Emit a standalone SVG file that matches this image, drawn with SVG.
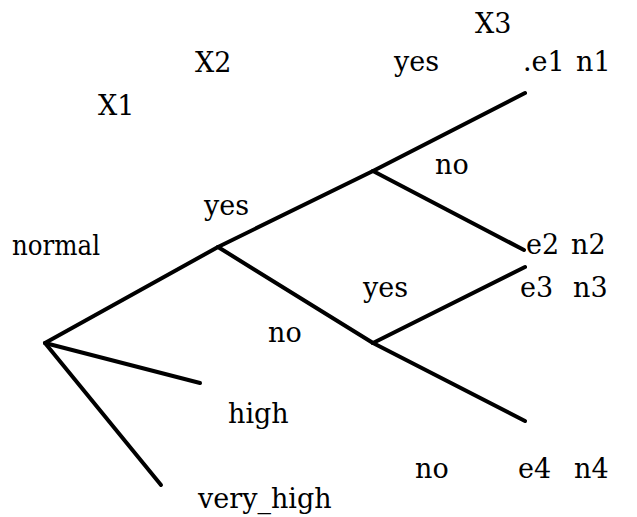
<svg xmlns="http://www.w3.org/2000/svg" width="637" height="517" viewBox="0 0 637 517">
<style>
.t text{font-family:'DejaVu Serif','Liberation Serif',serif;font-size:27px;fill:#000}
.e{stroke:#000;stroke-width:4;stroke-linecap:round;fill:none}
</style>
<rect width="637" height="517" fill="#fff"/>
<g id="connectors">
<line class="e" x1="45" y1="343" x2="218" y2="247"/>
<line class="e" x1="45" y1="343" x2="200" y2="383"/>
<line class="e" x1="45" y1="343" x2="161" y2="485"/>
<line class="e" x1="218" y1="247" x2="373" y2="171"/>
<line class="e" x1="218" y1="247" x2="373" y2="343"/>
<line class="e" x1="373" y1="171" x2="525" y2="93"/>
<line class="e" x1="373" y1="171" x2="524" y2="250"/>
<line class="e" x1="373" y1="343" x2="525" y2="267"/>
<line class="e" x1="373" y1="343" x2="525" y2="421"/>
</g>
<g class="t">
<g id="headers">
<text x="98" y="115">X1</text>
<text x="195" y="72">X2</text>
<text x="475" y="33">X3</text>
</g>
<g id="root">
<text x="12" y="255" textLength="88" lengthAdjust="spacingAndGlyphs">normal</text>
<text x="228" y="423">high</text>
<text x="198" y="508">very_high</text>
</g>
<g id="nodeX2">
<text x="204" y="215">yes</text>
<text x="268" y="342">no</text>
</g>
<g id="nodeX3a">
<text x="394" y="71">yes</text>
<text x="435" y="174">no</text>
</g>
<g id="nodeX3b">
<text x="363" y="297">yes</text>
<text x="415" y="478">no</text>
</g>
<g id="leaf1"><text x="523" y="71">.e1</text><text x="576" y="71">n1</text></g>
<g id="leaf2"><text x="526" y="254">e2</text><text x="571" y="254">n2</text></g>
<g id="leaf3"><text x="520" y="297">e3</text><text x="573" y="297">n3</text></g>
<g id="leaf4"><text x="518" y="478">e4</text><text x="574" y="478">n4</text></g>
</g>
</svg>
